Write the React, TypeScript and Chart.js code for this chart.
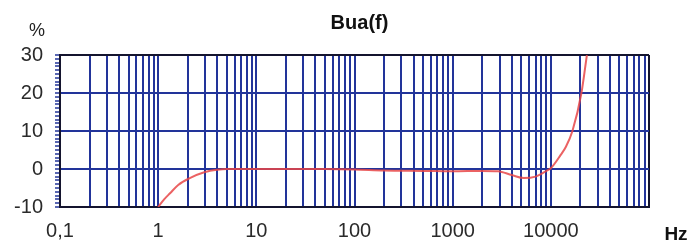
import React, { useEffect, useRef } from 'react';
import { Chart, registerables } from 'chart.js';

Chart.register(...registerables);

// Measured curve Bua(f)
const frequencies = [1, 1.15, 1.32, 1.6, 2.1, 3, 4, 5, 10, 50, 100, 200, 500, 1000, 2000, 2900, 4000, 5300, 7000, 9300, 10000, 12600, 14200, 16600, 20500, 23300];
const buaValues = [-10, -8, -6.4, -4.2, -2.4, -0.8, -0.2, 0, 0, 0, -0.1, -0.4, -0.5, -0.6, -0.5, -0.6, -1.6, -2.4, -2, -0.3, 0.2, 3.7, 5.8, 10, 20, 30];

// Axis definitions
const decades = [0.1, 1, 10, 100, 1000, 10000, 100000];
const decadeLabels = ['0,1', '1', '10', '100', '1000', '10000', ''];
const gridMultipliers = [1, 2, 3, 4, 5, 6, 7, 8, 9];
const yMin = -10;
const yMax = 30;
const yMajorStep = 10;
const yMinorStep = 1;

const titleText = 'Bua(f)';
const yUnitText = '%';
const xUnitText = 'Hz';

const FONT = "'Liberation Sans', Arial, sans-serif";
const GRID_BLUE = '#22349a';
const FRAME = '#14142e';

export default function App() {
  const canvasRef = useRef<HTMLCanvasElement | null>(null);

  useEffect(() => {
    if (!canvasRef.current) return;
    const gridValues: number[] = [];
    decades.slice(0, -1).forEach((d) => gridMultipliers.forEach((m) => gridValues.push(d * m)));
    gridValues.push(decades[decades.length - 1]);

    const isDecade = (v: number) => decades.findIndex((d) => Math.abs(v - d) / d < 1e-9);

    const textPlugin = {
      id: 'texts',
      afterDraw(chart: any) {
        const ctx = chart.ctx;
        const a = chart.chartArea;
        ctx.save();
        ctx.textBaseline = 'middle';
        ctx.textAlign = 'center';
        ctx.fillStyle = '#111';
        ctx.font = `bold 20px ${FONT}`;
        ctx.fillText(titleText, (a.left + a.right) / 2 + 5, 23);
        ctx.font = `18px ${FONT}`;
        ctx.fillStyle = '#222';
        ctx.fillText(yUnitText, 37, 31);
        ctx.font = `bold 19px ${FONT}`;
        ctx.fillStyle = '#111';
        ctx.fillText(xUnitText, 676, 235);
        ctx.restore();
      },
    };

    const chart = new Chart(canvasRef.current, {
      type: 'line',
      data: {
        datasets: [
          {
            data: frequencies.map((f, i) => ({ x: f, y: buaValues[i] })),
            borderColor: 'rgba(232, 70, 72, 0.85)',
            borderWidth: 2,
            pointRadius: 0,
            cubicInterpolationMode: 'monotone',
            fill: false,
          },
        ],
      },
      options: {
        animation: false,
        responsive: true,
        maintainAspectRatio: false,
        layout: { padding: { top: 55, right: 45, left: 0, bottom: 0 } },
        plugins: { legend: { display: false }, title: { display: false }, tooltip: { enabled: false } },
        scales: {
          x: {
            type: 'logarithmic',
            min: decades[0],
            max: decades[decades.length - 1],
            afterBuildTicks: (scale: any) => {
              scale.ticks = gridValues.map((v) => ({ value: v, major: isDecade(v) >= 0 }));
            },
            afterFit: (scale: any) => {
              scale.height = 40;
            },
            grid: {
              drawTicks: false,
              color: (c: any) => (c.tick && Math.abs(c.tick.value - decades[decades.length - 1]) < 1 ? FRAME : GRID_BLUE),
              lineWidth: 2,
            },
            border: { color: FRAME, width: 2 },
            ticks: {
              autoSkip: false,
              maxRotation: 0,
              padding: 12,
              color: '#2a2a2a',
              font: { family: FONT, size: 20 },
              callback: (value: any) => {
                const i = isDecade(Number(value));
                return i >= 0 ? decadeLabels[i] : '';
              },
            },
          },
          y: {
            type: 'linear',
            min: yMin,
            max: yMax,
            afterFit: (scale: any) => {
              scale.width = 60;
            },
            grid: {
              drawTicks: true,
              tickLength: 5,
              tickWidth: 1.5,
              tickColor: GRID_BLUE,
              color: (c: any) => {
                const v = c.tick ? c.tick.value : 0;
                if (v === yMax) return FRAME;
                return v % yMajorStep === 0 ? GRID_BLUE : 'rgba(0,0,0,0)';
              },
              lineWidth: 2,
            },
            border: { color: FRAME, width: 2 },
            ticks: {
              stepSize: yMinorStep,
              autoSkip: false,
              padding: 12,
              color: '#2a2a2a',
              font: { family: FONT, size: 20 },
              callback: (value: any) => (Number(value) % yMajorStep === 0 ? String(value) : ''),
            },
          },
        },
      },
      plugins: [textPlugin],
    } as any);

    return () => chart.destroy();
  }, []);

  return (
    <div style={{ position: 'absolute', left: 0, top: 0, width: 694, height: 247, background: '#fff' }}>
      <canvas ref={canvasRef} />
    </div>
  );
}
